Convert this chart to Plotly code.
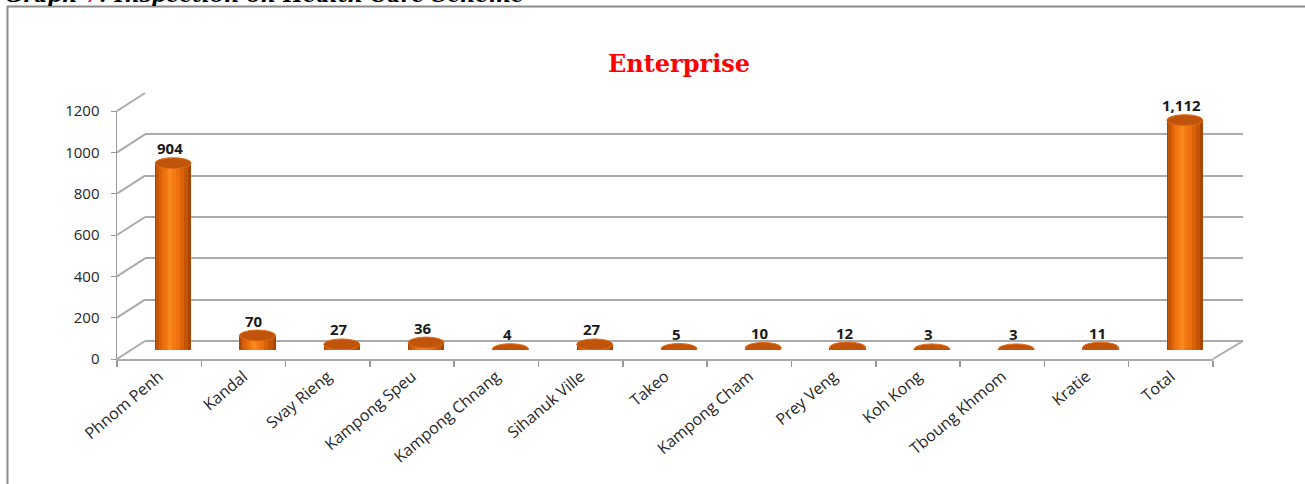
import plotly.graph_objects as go

# ---------------- data ----------------
categories = ["Phnom Penh", "Kandal", "Svay Rieng", "Kampong Speu", "Kampong Chnang",
              "Sihanuk Ville", "Takeo", "Kampong Cham", "Prey Veng", "Koh Kong",
              "Tboung Khmom", "Kratie", "Total"]
values = [904, 70, 27, 36, 4, 27, 5, 10, 12, 3, 3, 11, 1112]
y_ticks = [0, 200, 400, 600, 800, 1000, 1200]
chart_title = "Enterprise"

# ---------------- geometry ----------------
W, H = 1305, 484
def fx(p):
    return p / W
def fy(p):
    return 1 - p / H

FX0, FX1, FYT, FYB = 117, 1213, 111, 359   # front plane (axes)
DX, DY = 28, -18                            # depth offset of back wall
MX, MY = DX / 2, DY / 2                     # bars sit in the middle of the depth
YMAX = 1200
idx = list(range(len(categories)))
xr = [-0.5, len(categories) - 0.5]

fig = go.Figure()

# back wall (grid only)  -> x2/y2
fig.add_trace(go.Scatter(x=[0], y=[0], xaxis="x2", yaxis="y2", mode="markers",
                         marker=dict(opacity=0), hoverinfo="skip", showlegend=False))

# cylinder bars -> x3/y3 (drawn last)
bw = 0.43
layers = [
    (bw, -bw / 2, "#A84703"),
    (0.38, -0.20, "#C45406"),
    (0.30, -0.17, "#DC620A"),
    (0.21, -0.13, "#EC700E"),
    (0.12, -0.09, "#F47B14"),
    (0.05, -0.06, "#F8871E"),
]
for w, off, col in layers:
    fig.add_trace(go.Bar(x=idx, y=values, xaxis="x3", yaxis="y3", width=w, offset=off,
                         marker=dict(color=col, line=dict(width=0)),
                         hoverinfo="skip", showlegend=False))

# front axes (labels) -> x/y
fig.add_trace(go.Scatter(x=categories, y=[0] * len(categories), xaxis="x", yaxis="y",
                         mode="markers", marker=dict(opacity=0), hoverinfo="skip",
                         showlegend=False))

shapes = []
annotations = []
# cylinder caps (bottom and top ellipses)
for i, v in zip(idx, values):
    shapes.append(dict(type="circle", xref="x3", yref="y3", xsizemode="pixel",
                       ysizemode="pixel", xanchor=i, yanchor=0, x0=-18, x1=18,
                       y0=-5.5, y1=5.5, fillcolor="#D05E0A", line=dict(width=0),
                       layer="below"))
    shapes.append(dict(type="circle", xref="x3", yref="y3", xsizemode="pixel",
                       ysizemode="pixel", xanchor=i, yanchor=v, x0=-18, x1=18,
                       y0=-5.5, y1=5.5, fillcolor="#C0540A",
                       line=dict(width=1, color="#E06C16"), layer="above"))
    annotations.append(dict(x=i, y=v, xref="x3", yref="y3", text=f"<b>{v:,}</b>",
                            showarrow=False, yanchor="bottom", yshift=3, xshift=-3,
                            font=dict(family="Open Sans", size=15, color="#1a1a1a")))

# left wall diagonals and floor edge
grey = "#ABABAB"
for t in y_ticks:
    yf = FYB - (FYB - FYT) * t / YMAX
    shapes.append(dict(type="line", xref="paper", yref="paper",
                       x0=fx(FX0), y0=fy(yf), x1=fx(FX0 + DX), y1=fy(yf + DY),
                       line=dict(color=grey, width=2)))
shapes.append(dict(type="line", xref="paper", yref="paper",
                   x0=fx(FX1), y0=fy(FYB), x1=fx(FX1 + DX + 2), y1=fy(FYB + DY),
                   line=dict(color=grey, width=2)))

# outer frame
shapes.append(dict(type="line", xref="paper", yref="paper", x0=fx(7), x1=1,
                   y0=fy(6.5), y1=fy(6.5), line=dict(color="#8C8C8C", width=2)))
shapes.append(dict(type="line", xref="paper", yref="paper", x0=fx(7.5), x1=fx(7.5),
                   y0=fy(6), y1=0, line=dict(color="#8C8C8C", width=2)))

# title
annotations.append(dict(x=fx(679), y=fy(63), xref="paper", yref="paper",
                        text=f"<b>{chart_title}</b>", showarrow=False,
                        xanchor="center", yanchor="middle",
                        font=dict(family="DejaVu Serif", size=24, color="#FF0000")))
# cut-off heading above the frame (cut at the page top, as in the reference)
annotations.append(dict(x=fx(3), y=fy(9.5), xref="paper", yref="paper",
                        text="<b><i>Graph <span style='color:#FF0000'>7</span>: "
                             "Inspection on Health Care Scheme</i></b>",
                        showarrow=False, xanchor="left", yanchor="bottom",
                        font=dict(family="DejaVu Serif", size=21, color="#000000")))

fig.update_layout(
    width=W, height=H,
    margin=dict(l=0, r=0, t=0, b=0, autoexpand=False),
    paper_bgcolor="white", plot_bgcolor="rgba(0,0,0,0)",
    barmode="overlay", bargap=0,
    showlegend=False,
    shapes=shapes,
    annotations=annotations,
    # front axes
    xaxis=dict(domain=[fx(FX0), fx(FX1)], anchor="y", type="category", automargin=False,
               range=xr, tickson="boundaries", ticks="outside", ticklen=6,
               tickcolor="#999999", tickwidth=1.5, showline=True, linecolor=grey,
               linewidth=2, showgrid=False, tickangle=-40, tickfont=dict(
                   family="Open Sans", size=16, color="#262626"), fixedrange=True),
    yaxis=dict(domain=[fy(FYB), fy(FYT)], anchor="x", range=[0, YMAX], automargin=False,
               tickvals=y_ticks, ticks="outside", ticklen=5, tickcolor="#999999",
               showline=True, linecolor="#999999", linewidth=1.5, showgrid=False,
               zeroline=False, tickfont=dict(family="Open Sans", size=15,
                                             color="#262626"),
               ticklabelstandoff=8, fixedrange=True),
    # back wall
    xaxis2=dict(domain=[fx(FX0 + DX), fx(FX1 + DX + 2)], anchor="y2", range=xr,
                visible=False, fixedrange=True, automargin=False),
    yaxis2=dict(domain=[fy(FYB + DY), fy(FYT + DY)], anchor="x2", range=[0, YMAX],
                tickvals=y_ticks, showticklabels=False, ticks="", showline=False,
                showgrid=True, gridcolor=grey, gridwidth=2, zeroline=True,
                zerolinecolor=grey, zerolinewidth=2, fixedrange=True, automargin=False),
    # bars (middle of depth)
    xaxis3=dict(domain=[fx(FX0 + MX), fx(FX1 + MX)], anchor="y3", range=xr,
                visible=False, fixedrange=True, automargin=False),
    yaxis3=dict(domain=[fy(FYB + MY), fy(FYT + MY)], anchor="x3", range=[0, YMAX],
                visible=False, fixedrange=True, automargin=False),
)

fig.write_html("out.html",
               config={"displayModeBar": False, "staticPlot": True},
               post_script="document.body.style.margin='0px';"
                           "document.body.style.overflow='hidden';")
